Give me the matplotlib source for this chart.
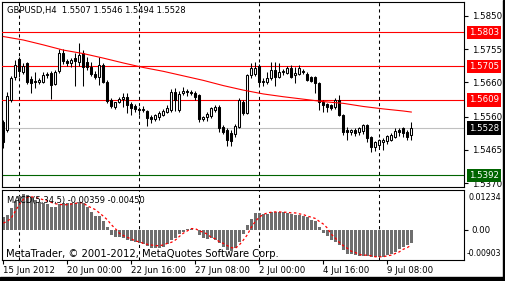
import numpy as np
import matplotlib
matplotlib.use("Agg")
import matplotlib.pyplot as plt
from matplotlib.patches import Rectangle
from matplotlib.transforms import blended_transform_factory

# GBPUSD H4 candles (first bar = 15 Jun 2012 08:00)
opens = [1.5545, 1.5522, 1.5609, 1.5675, 1.5726, 1.5689, 1.5715, 1.5669, 1.5663, 1.5660,
         1.5660, 1.5683, 1.5686, 1.5655, 1.5692, 1.5744, 1.5721, 1.5715, 1.5729, 1.5718,
         1.5744, 1.5718, 1.5703, 1.5683, 1.5675, 1.5709, 1.5660, 1.5609, 1.5588, 1.5603,
         1.5611, 1.5617, 1.5597, 1.5591, 1.5583, 1.5580, 1.5577, 1.5560, 1.5554, 1.5560,
         1.5565, 1.5574, 1.5580, 1.5632, 1.5580, 1.5629, 1.5634, 1.5632, 1.5629, 1.5623,
         1.5554, 1.5560, 1.5563, 1.5580, 1.5588, 1.5531, 1.5522, 1.5514, 1.5511, 1.5531,
         1.5603, 1.5571, 1.5680, 1.5683, 1.5706, 1.5660, 1.5660, 1.5672, 1.5695, 1.5675,
         1.5689, 1.5686, 1.5701, 1.5680, 1.5683, 1.5692, 1.5683, 1.5675, 1.5675, 1.5657,
         1.5603, 1.5597, 1.5594, 1.5588, 1.5609, 1.5565, 1.5522, 1.5517, 1.5522, 1.5517,
         1.5519, 1.5537, 1.5502, 1.5473, 1.5479, 1.5488, 1.5491, 1.5494, 1.5502, 1.5522,
         1.5528, 1.5517, 1.5507]
highs = [1.5551, 1.5632, 1.5678, 1.5724, 1.5732, 1.5715, 1.5718, 1.5678, 1.5689, 1.5672,
         1.5689, 1.5689, 1.5692, 1.5695, 1.5755, 1.5755, 1.5726, 1.5729, 1.5744, 1.5772,
         1.5752, 1.5732, 1.5718, 1.5692, 1.5732, 1.5715, 1.5666, 1.5614, 1.5603, 1.5617,
         1.5629, 1.5629, 1.5603, 1.5597, 1.5588, 1.5591, 1.5580, 1.5565, 1.5568, 1.5577,
         1.5583, 1.5594, 1.5640, 1.5643, 1.5634, 1.5646, 1.5640, 1.5637, 1.5634, 1.5626,
         1.5563, 1.5574, 1.5588, 1.5594, 1.5594, 1.5537, 1.5528, 1.5522, 1.5540, 1.5614,
         1.5609, 1.5683, 1.5715, 1.5718, 1.5712, 1.5672, 1.5689, 1.5718, 1.5718, 1.5715,
         1.5698, 1.5706, 1.5709, 1.5703, 1.5709, 1.5698, 1.5689, 1.5678, 1.5678, 1.5660,
         1.5609, 1.5600, 1.5597, 1.5614, 1.5623, 1.5568, 1.5531, 1.5525, 1.5528, 1.5531,
         1.5540, 1.5540, 1.5505, 1.5491, 1.5496, 1.5499, 1.5508, 1.5514, 1.5528, 1.5528,
         1.5531, 1.5522, 1.5546]
lows = [1.5471, 1.5517, 1.5603, 1.5666, 1.5675, 1.5683, 1.5655, 1.5629, 1.5643, 1.5655,
        1.5657, 1.5672, 1.5611, 1.5652, 1.5686, 1.5712, 1.5706, 1.5703, 1.5649, 1.5706,
        1.5649, 1.5695, 1.5678, 1.5669, 1.5652, 1.5657, 1.5600, 1.5586, 1.5583, 1.5600,
        1.5588, 1.5571, 1.5565, 1.5574, 1.5565, 1.5574, 1.5534, 1.5542, 1.5548, 1.5551,
        1.5563, 1.5571, 1.5574, 1.5577, 1.5574, 1.5623, 1.5620, 1.5623, 1.5609, 1.5545,
        1.5548, 1.5548, 1.5557, 1.5574, 1.5517, 1.5511, 1.5476, 1.5476, 1.5502, 1.5528,
        1.5565, 1.5568, 1.5672, 1.5678, 1.5652, 1.5649, 1.5655, 1.5666, 1.5649, 1.5672,
        1.5680, 1.5683, 1.5672, 1.5657, 1.5680, 1.5683, 1.5663, 1.5660, 1.5629, 1.5580,
        1.5574, 1.5574, 1.5580, 1.5583, 1.5563, 1.5508, 1.5494, 1.5508, 1.5505, 1.5508,
        1.5511, 1.5488, 1.5459, 1.5462, 1.5473, 1.5465, 1.5482, 1.5491, 1.5499, 1.5505,
        1.5502, 1.5494, 1.5494]
closes = [1.5488, 1.5620, 1.5672, 1.5709, 1.5692, 1.5706, 1.5660, 1.5657, 1.5660, 1.5666,
          1.5680, 1.5680, 1.5652, 1.5689, 1.5744, 1.5721, 1.5715, 1.5724, 1.5721, 1.5738,
          1.5703, 1.5703, 1.5683, 1.5675, 1.5709, 1.5660, 1.5606, 1.5591, 1.5603, 1.5611,
          1.5617, 1.5594, 1.5586, 1.5583, 1.5580, 1.5583, 1.5557, 1.5554, 1.5565, 1.5571,
          1.5577, 1.5586, 1.5632, 1.5609, 1.5626, 1.5634, 1.5632, 1.5629, 1.5617, 1.5554,
          1.5560, 1.5568, 1.5586, 1.5588, 1.5528, 1.5517, 1.5494, 1.5491, 1.5534, 1.5609,
          1.5571, 1.5680, 1.5701, 1.5701, 1.5660, 1.5663, 1.5672, 1.5695, 1.5675, 1.5689,
          1.5692, 1.5701, 1.5675, 1.5686, 1.5701, 1.5689, 1.5666, 1.5663, 1.5657, 1.5603,
          1.5594, 1.5588, 1.5586, 1.5609, 1.5565, 1.5517, 1.5517, 1.5522, 1.5514, 1.5528,
          1.5537, 1.5499, 1.5473, 1.5488, 1.5494, 1.5494, 1.5505, 1.5508, 1.5519, 1.5517,
          1.5514, 1.5502, 1.5528]

# moving average (red curve), sampled every 5 bars
ma_idx = [0, 5, 10, 15, 20, 25, 30, 35, 40, 45, 50, 55, 60, 65, 70, 75, 80, 85, 90, 95, 100, 102]
ma_vals = [1.5791, 1.5781, 1.5767, 1.5752, 1.5742, 1.5729, 1.5715, 1.5702, 1.5691, 1.5678,
           1.5665, 1.5650, 1.5637, 1.5626, 1.5618, 1.5611, 1.5604, 1.5599, 1.5590, 1.5583,
           1.5577, 1.5574]

# MACD(5,34,5): histogram (main) and signal
macd_main = [0.0039, 0.0045, 0.0068, 0.0088, 0.0104, 0.0111, 0.0107, 0.0099, 0.0090, 0.0086,
             0.0083, 0.0078, 0.0070, 0.0070, 0.0078, 0.0083, 0.0083, 0.0083, 0.0083, 0.0086,
             0.0083, 0.0070, 0.0055, 0.0042, 0.0042, 0.0028, 0.0008, -0.0015, -0.0023, -0.0023,
             -0.0025, -0.0031, -0.0034, -0.0038, -0.0041, -0.0044, -0.0048, -0.0054, -0.0054, -0.0054,
             -0.0051, -0.0044, -0.0031, -0.0025, -0.0013, -0.0005, 0.0003, 0.0003, -0.0001, -0.0015,
             -0.0025, -0.0028, -0.0025, -0.0031, -0.0041, -0.0051, -0.0062, -0.0065, -0.0056, -0.0036,
             -0.0013, 0.0014, 0.0034, 0.0052, 0.0052, 0.0049, 0.0049, 0.0055, 0.0055, 0.0055,
             0.0055, 0.0052, 0.0049, 0.0047, 0.0045, 0.0042, 0.0039, 0.0031, 0.0026, 0.0008,
             -0.0010, -0.0020, -0.0031, -0.0038, -0.0046, -0.0062, -0.0072, -0.0075, -0.0077, -0.0079,
             -0.0079, -0.0079, -0.0082, -0.0082, -0.0082, -0.0082, -0.0077, -0.0072, -0.0067, -0.0059,
             -0.0051, -0.0046, -0.0041]
macd_signal = [0.0021, 0.0026, 0.0037, 0.0057, 0.0078, 0.0093, 0.0099, 0.0101, 0.0099, 0.0096,
               0.0092, 0.0088, 0.0084, 0.0080, 0.0078, 0.0077, 0.0077, 0.0079, 0.0081, 0.0083,
               0.0083, 0.0073, 0.0068, 0.0062, 0.0052, 0.0042, 0.0031, 0.0016, 0.0004, -0.0010,
               -0.0017, -0.0023, -0.0027, -0.0034, -0.0036, -0.0041, -0.0044, -0.0046, -0.0048, -0.0048,
               -0.0046, -0.0041, -0.0038, -0.0031, -0.0020, -0.0010, -0.0003, 0.0004, 0.0004, -0.0003,
               -0.0007, -0.0013, -0.0023, -0.0027, -0.0036, -0.0041, -0.0048, -0.0054, -0.0056, -0.0046,
               -0.0031, -0.0015, 0.0008, 0.0026, 0.0039, 0.0047, 0.0052, 0.0054, 0.0055, 0.0055,
               0.0054, 0.0054, 0.0052, 0.0052, 0.0049, 0.0047, 0.0042, 0.0039, 0.0035, 0.0026,
               0.0018, 0.0006, -0.0013, -0.0025, -0.0038, -0.0048, -0.0056, -0.0065, -0.0069, -0.0075,
               -0.0077, -0.0077, -0.0079, -0.0082, -0.0082, -0.0082, -0.0079, -0.0077, -0.0072, -0.0067,
               -0.0059, -0.0054, -0.0046]

red_levels = [1.5803, 1.5705, 1.5609]
bid_level = 1.5528
green_level = 1.5392
price_ticks = [1.5850, 1.5755, 1.5660, 1.5560, 1.5465, 1.5370]

sep_idx = [4, 34, 64, 94]   # week separators
time_idx = [0, 16, 32, 48, 64, 80, 96]
time_labels = ["15 Jun 2012", "20 Jun 00:00", "22 Jun 16:00", "27 Jun 08:00",
               "2 Jul 00:00", "4 Jul 16:00", "9 Jul 08:00"]

W, H = 506, 281
plt.rcParams['font.family'] = ['DejaVu Sans']
fig = plt.figure(figsize=(W / 100, H / 100), dpi=100)
fig.patch.set_facecolor('white')


def px_axes(l, t, r, b):
    return fig.add_axes([l / W, 1 - b / H, (r - l) / W, (b - t) / H])


ax = px_axes(2, 2, 464, 187)
ax2 = px_axes(2, 189.5, 464, 259.5)
for a in (ax, ax2):
    for s in a.spines.values():
        s.set_linewidth(0.8)
        s.set_color('black')
    a.set_xlim(-0.33, 115.18)

# --- price panel ---
x = np.arange(len(opens))
o = np.array(opens)
c = np.array(closes)
up = c >= o
ax.vlines(x, lows, highs, color='black', lw=0.75, zorder=4)
ax.bar(x, np.maximum(np.abs(c - o), 0.00004), bottom=np.minimum(o, c), width=0.55,
       color=np.where(up, 'white', 'black'), edgecolor='black', linewidth=0.75, zorder=5)

for lvl in red_levels:
    ax.axhline(lvl, color='#ff0000', lw=0.8, zorder=3)
ax.axhline(bid_level, color='#c0c0c0', lw=0.8, zorder=2)
ax.axhline(green_level, color='#006400', lw=0.8, zorder=2)
ax.plot(ma_idx, ma_vals, color='#ff0000', lw=0.8, zorder=6)

for s in sep_idx:
    ax.axvline(s, color='black', lw=0.75, ls=(0, (3, 3)), zorder=1)
    ax2.axvline(s, color='black', lw=0.75, ls=(0, (3, 3)), zorder=1)

ax.set_ylim(1.53586, 1.58902)
ax.set_xticks([])
ax.yaxis.tick_right()
ax.set_yticks(price_ticks)
ax.set_yticklabels([f"{p:.4f}" for p in price_ticks])
ax.tick_params(axis='y', length=3, width=0.8, pad=2.5, labelsize=6.2)

trans = blended_transform_factory(ax.transAxes, ax.transData)
boxes = [(l, '#ff0000') for l in red_levels] + [(bid_level, 'black'), (green_level, '#006400')]
for lvl, col in boxes:
    ax.text(1.0105, lvl, f"{lvl:.4f}", transform=trans, ha='left', va='center', fontsize=6.2,
            color='white', clip_on=False, zorder=10,
            bbox=dict(boxstyle='square,pad=0.25', fc=col, ec='none'))

ax.text(5 / 462, 1 - 8 / 185, "GBPUSD,H4  1.5507 1.5546 1.5494 1.5528", transform=ax.transAxes,
        fontsize=6, ha='left', va='center')

# --- MACD panel ---
ax2.bar(x, macd_main, width=0.65, color='#6e6e6e', zorder=2)
ax2.plot(x, macd_signal, color='#ff0000', lw=0.9, ls=(0, (2, 2)), zorder=3)
ax2.set_ylim(-0.00903, 0.01234)
ax2.yaxis.tick_right()
ax2.set_yticks([0.0])
ax2.set_yticklabels(["0.00"])
ax2.tick_params(axis='y', length=3, width=0.8, pad=2.5, labelsize=6.2)
ax2.text(1.009, 0.89, "0.01234", transform=ax2.transAxes, fontsize=5.8, ha='left', va='center')
ax2.text(1.0065, 0.08, "-0.00903", transform=ax2.transAxes, fontsize=5.6, ha='left', va='center')

ax2.set_xticks(time_idx)
ax2.set_xticklabels(time_labels)
ax2.tick_params(axis='x', length=3, width=0.8, pad=1.5, labelsize=6.2)
for lab in ax2.get_xticklabels():
    lab.set_ha('left')

ax2.text(5 / 462, 1 - 10.5 / 70, "MACD(5,34,5) -0.00359 -0.00450", transform=ax2.transAxes,
         fontsize=6, ha='left', va='center', zorder=5)
ax2.text(4 / 462, 0.5 / 70, "MetaTrader, \u00a9 2001-2012, MetaQuotes Software Corp.",
         transform=ax2.transAxes, fontsize=7.2, ha='left', va='bottom', zorder=5)

# window frame at the bottom and right
fig.patches.append(Rectangle((0, 0), 1, 4.5 / H, transform=fig.transFigure, color='black'))
fig.patches.append(Rectangle((1 - 3 / W, 0), 3 / W, 1, transform=fig.transFigure, color='black'))

fig.savefig("out.png", dpi=100)
